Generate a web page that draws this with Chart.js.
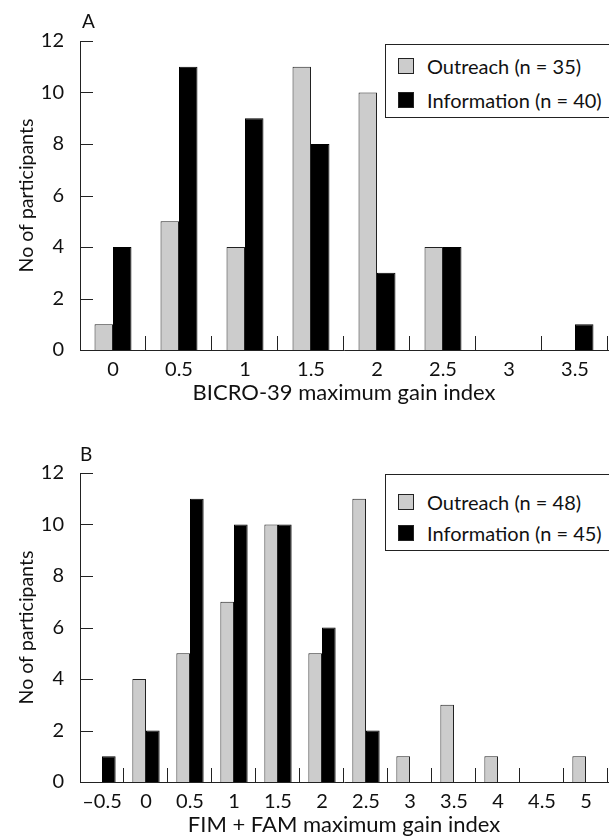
<!DOCTYPE html>
<html>
<head>
<meta charset="utf-8">
<script src="https://cdn.jsdelivr.net/npm/chart.js@4.4.1/dist/chart.umd.min.js"></script>
<style>
  html, body { margin: 0; padding: 0; background: #fff; width: 609px; height: 837px; overflow: hidden; }
  .panel { position: absolute; left: 0; width: 609px; height: 418px; }
  .panel canvas { position: absolute; left: 0; top: 0; }
  .letter { position: absolute; font: 19px Lato, sans-serif; color: #111; }
  .legend { position: absolute; left: 385px; width: 240px; border: 1px solid #222; background: #fff;
            font: 20px Lato, sans-serif; color: #111; box-sizing: border-box; }
  .legend .row { position: absolute; left: 12px; display: flex; align-items: center; white-space: nowrap; }
  .legend .sw { width: 16px; height: 16px; border: 1px solid #222; margin-right: 13px; box-sizing: border-box; }
</style>
</head>
<body>
<div class="panel" id="pa" style="top:0">
  <canvas id="chartA" width="609" height="418"></canvas>
</div>
<div class="panel" id="pb" style="top:432px">
  <canvas id="chartB" width="609" height="418"></canvas>
</div>

<script>
// Panel A: BICRO-39
const catsA = ['0', '0.5', '1', '1.5', '2', '2.5', '3', '3.5'];
const outreachA = [1, 5, 4, 11, 10, 4, 0, 0];
const infoA = [4, 11, 9, 8, 3, 4, 0, 1];
const legendA = ['Outreach (n = 35)', 'Information (n = 40)'];

// Panel B: FIM + FAM
const catsB = ['\u20130.5', '0', '0.5', '1', '1.5', '2', '2.5', '3', '3.5', '4', '4.5', '5'];
const outreachB = [0, 4, 5, 7, 10, 5, 11, 1, 3, 1, 0, 1];
const infoB = [1, 2, 11, 10, 10, 6, 2, 0, 0, 0, 0, 0];
const legendB = ['Outreach (n = 48)', 'Information (n = 45)'];

const yTicks = [0, 2, 4, 6, 8, 10, 12];

const GREY = '#cccccc';
const INK = '#222222';
const FONT = 'Lato, sans-serif';

// short inward tick marks on both axes
const insideTicks = {
  id: 'insideTicks',
  afterDraw(chart) {
    const ctx = chart.ctx, x = chart.scales.x, y = chart.scales.y;
    const n = x.ticks.length, w = (x.right - x.left) / n;
    ctx.save();
    ctx.strokeStyle = INK;
    ctx.lineWidth = 1;
    ctx.beginPath();
    for (let i = 1; i <= n; i++) {
      const px = Math.round(x.left + i * w) - 0.5;
      ctx.moveTo(px, y.bottom);
      ctx.lineTo(px, y.bottom - 14);
    }
    y.ticks.forEach((t, i) => {
      const py = Math.round(y.getPixelForTick(i)) + 0.5;
      ctx.moveTo(x.left, py);
      ctx.lineTo(x.left + 13, py);
    });
    ctx.stroke();
    ctx.restore();
  }
};

function makeChart(id, cats, outreach, info, labels, xTitle, catPct) {
  return new Chart(document.getElementById(id), {
    type: 'bar',
    data: {
      labels: cats,
      datasets: [
        { label: labels[0], data: outreach, backgroundColor: GREY, borderColor: INK, borderWidth: 1 },
        { label: labels[1], data: info, backgroundColor: '#000', borderColor: '#000', borderWidth: 1 }
      ]
    },
    options: {
      responsive: false,
      animation: false,
      layout: { padding: { top: 41, right: 1, left: 0, bottom: 0 } },
      datasets: { bar: { categoryPercentage: catPct, barPercentage: 1, borderSkipped: 'start' } },
      plugins: { legend: { display: false }, tooltip: { enabled: false } },
      scales: {
        x: {
          grid: { display: false },
          border: { display: true, color: INK, width: 1 },
          ticks: { color: '#111', font: { family: FONT, size: 20, lineHeight: 1 }, padding: 2, maxRotation: 0, autoSkip: false },
          title: { display: true, text: xTitle, color: '#111', font: { family: FONT, size: 22, lineHeight: 1 }, padding: { top: 0, bottom: 14 } },
          afterFit: s => { s.height = 68; }
        },
        y: {
          min: 0, max: 12,
          afterBuildTicks: s => { s.ticks = yTicks.map(v => ({ value: v })); },
          grid: { display: false },
          border: { display: true, color: INK, width: 1 },
          ticks: { color: '#111', font: { family: FONT, size: 20 }, padding: 8 },
          title: { display: true, text: 'No of participants', color: '#111', font: { family: FONT, size: 19.5, lineHeight: 1 }, padding: { top: 17, bottom: 0 } },
          afterFit: s => { s.width = 80; }
        }
      }
    },
    plugins: [insideTicks]
  });
}

function addLegend(panelId, labels, top, height, rows) {
  const box = document.createElement('div');
  box.className = 'legend';
  box.style.top = top + 'px';
  box.style.height = height + 'px';
  labels.forEach((txt, i) => {
    const r = document.createElement('div');
    r.className = 'row';
    r.style.top = (rows[i] - 12) + 'px';
    r.style.height = '24px';
    const sw = document.createElement('span');
    sw.className = 'sw';
    sw.style.background = i === 0 ? GREY : '#000';
    const t = document.createElement('span');
    t.textContent = txt;
    r.appendChild(sw); r.appendChild(t);
    box.appendChild(r);
  });
  document.getElementById(panelId).appendChild(box);
}

function addLetter(panelId, ch, left, top) {
  const d = document.createElement('div');
  d.className = 'letter';
  d.textContent = ch;
  d.style.left = left + 'px';
  d.style.top = top + 'px';
  document.getElementById(panelId).appendChild(d);
}

makeChart('chartA', catsA, outreachA, infoA, legendA, 'BICRO-39 maximum gain index', 0.56);
makeChart('chartB', catsB, outreachB, infoB, legendB, 'FIM + FAM maximum gain index', 0.62);

addLegend('pa', legendA, 44, 74, [21, 55]);
addLegend('pb', legendB, 42, 77, [27, 58]);
addLetter('pa', 'A', 82, 9);
addLetter('pb', 'B', 80, 10);
</script>
</body>
</html>
